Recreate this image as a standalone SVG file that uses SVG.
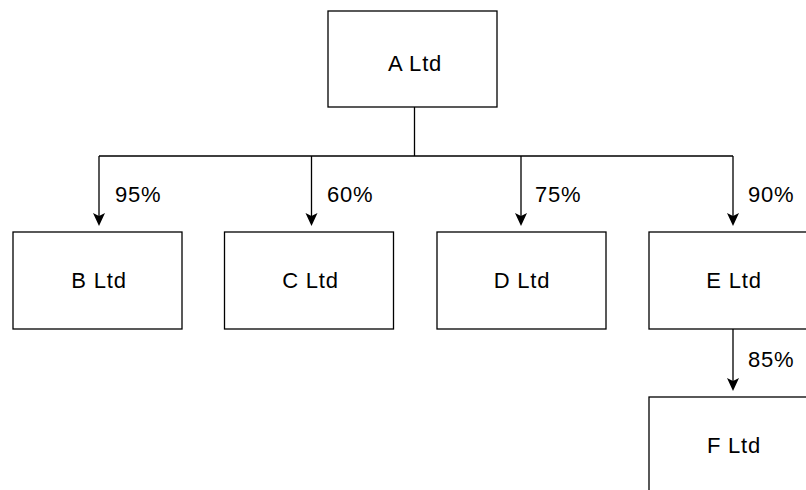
<svg xmlns="http://www.w3.org/2000/svg" width="806" height="490" viewBox="0 0 806 490">
<defs>
<style>
.box{fill:#fff;stroke:#000;stroke-width:1.3}
.lbl{font-family:"Liberation Sans",Arial,sans-serif;font-size:22px;fill:#000;letter-spacing:0.8px}
.ln{fill:none;stroke:#000;stroke-width:1.3}
.ah{fill:#000;stroke:none}
</style>
<path id="arrow" class="ah" d="M0,0 L-6,-13 L0,-10 L6,-13 Z"/>
</defs>
<rect width="806" height="490" fill="#fff"/>
<g id="connectors">
<path class="ln" d="M414.5,107 V156 M99,156 H733 M99,156 V222 M311.5,156 V222 M521,156 V222 M733,156 V222 M733,329 V387"/>
<use href="#arrow" x="99" y="226"/>
<use href="#arrow" x="311.5" y="226"/>
<use href="#arrow" x="521" y="226"/>
<use href="#arrow" x="733" y="226"/>
<use href="#arrow" x="733" y="391"/>
<text class="lbl" x="115" y="202">95%</text>
<text class="lbl" x="327" y="202">60%</text>
<text class="lbl" x="535" y="202">75%</text>
<text class="lbl" x="748" y="202">90%</text>
<text class="lbl" x="748" y="367">85%</text>
</g>
<g id="A"><rect class="box" x="328" y="11" width="169" height="96"/><text class="lbl" x="415" y="71" text-anchor="middle">A Ltd</text></g>
<g id="B"><rect class="box" x="13" y="232" width="169" height="97"/><text class="lbl" x="99" y="288" text-anchor="middle">B Ltd</text></g>
<g id="C"><rect class="box" x="224.5" y="232" width="169" height="97"/><text class="lbl" x="310.5" y="288" text-anchor="middle">C Ltd</text></g>
<g id="D"><rect class="box" x="437" y="232" width="169" height="97"/><text class="lbl" x="522" y="288" text-anchor="middle">D Ltd</text></g>
<g id="E"><rect class="box" x="649" y="232" width="169" height="97"/><text class="lbl" x="734" y="288" text-anchor="middle">E Ltd</text></g>
<g id="F"><rect class="box" x="649" y="397" width="169" height="97"/><text class="lbl" x="734" y="453" text-anchor="middle">F Ltd</text></g>
</svg>
